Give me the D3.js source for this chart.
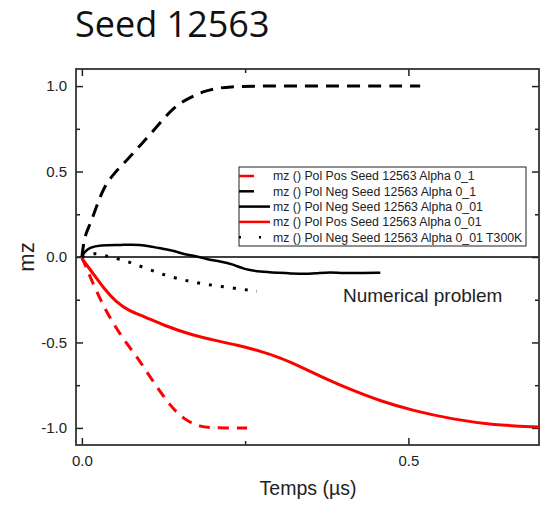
<!DOCTYPE html>
<html>
<head>
<meta charset="utf-8">
<script src="https://cdn.jsdelivr.net/npm/d3@7"></script>
<style>
  body { margin: 0; background: white; }
</style>
</head>
<body>
<svg id="display"></svg>
<script>
"use strict";

var width = 547,
    height = 505;

var margin = {left: 76, top: 69, right: 8, bottom: 60};

// series data: [temps, mz]
var negAlpha01 = [[0, 0], [0.004, 0.123], [0.0117, 0.182], [0.0219, 0.289], [0.0331, 0.406], [0.05, 0.494],
  [0.0704, 0.572], [0.0909, 0.66], [0.114, 0.757], [0.139, 0.874], [0.165, 0.933], [0.188, 0.972],
  [0.221, 1.0], [0.3, 1.0], [0.4, 1.0], [0.518, 1.0]];
var posAlpha01 = [[0, 0], [0.013, -0.12], [0.033, -0.29], [0.059, -0.46], [0.084, -0.58], [0.11, -0.735],
  [0.135, -0.87], [0.156, -0.95], [0.181, -0.995], [0.2, -1.0], [0.253, -1.0]];
var negAlpha001 = [[0, 0], [0.004, 0.03], [0.0117, 0.055], [0.027, 0.07], [0.06, 0.07], [0.088, 0.074],
  [0.114, 0.055], [0.144, 0.035], [0.155, 0.016], [0.175, 0.006], [0.19, -0.013], [0.212, -0.025], [0.232, -0.043],
  [0.248, -0.072], [0.273, -0.086], [0.3, -0.092], [0.334, -0.1], [0.36, -0.095], [0.38, -0.088], [0.4, -0.095],
  [0.43, -0.093], [0.457, -0.092]];
var posAlpha001 = [[0, -0.01], [0.018, -0.1], [0.033, -0.18], [0.051, -0.26], [0.074, -0.32], [0.094, -0.345],
  [0.125, -0.4], [0.171, -0.46], [0.207, -0.49], [0.237, -0.515], [0.273, -0.55], [0.304, -0.59], [0.334, -0.64],
  [0.375, -0.716], [0.411, -0.775], [0.457, -0.843], [0.508, -0.9], [0.569, -0.95], [0.63, -0.983], [0.7, -0.995]];
var negT300K = [[0, 0], [0.015, 0.02], [0.025, 0.02], [0.043, 0.0], [0.069, -0.023], [0.1, -0.07], [0.13, -0.11],
  [0.161, -0.14], [0.19, -0.16], [0.227, -0.18], [0.268, -0.2]];

var seriesNames = [
  "mz () Pol Pos Seed 12563 Alpha 0_1",
  "mz () Pol Neg Seed 12563 Alpha 0_1",
  "mz () Pol Neg Seed 12563 Alpha 0_01",
  "mz () Pol Pos Seed 12563 Alpha 0_01",
  "mz () Pol Neg Seed 12563 Alpha 0_01 T300K"
];
var seriesValues = [posAlpha01, negAlpha01, negAlpha001, posAlpha001, negT300K];
var seriesColors = ["#ff0000", "#000000", "#000000", "#ff0000", "#000000"];
var seriesDash = ["11,8", "13,8", null, null, "3,9"];

var xTicks = [0, 0.5],
    xMinor = [0.25],
    yTicks = [-1, -0.5, 0, 0.5, 1],
    yMinor = [-0.75, -0.25, 0.25, 0.75];

var sans = '"Liberation Sans", Arial, sans-serif';

var svg = d3.select('#display').attr('width', width).attr('height', height);

var x = d3.scaleLinear().domain([-0.009, 0.7]).range([margin.left, width - margin.right]);
var y = d3.scaleLinear().domain([-1.1, 1.1]).range([height - margin.bottom, margin.top]);

// title
svg.append('text')
  .attr('x', 75).attr('y', 37)
  .style('font-family', '"Open Sans", sans-serif')
  .style('font-size', '36px')
  .attr('fill', '#111')
  .text('Seed 12563');

// zero line
svg.append('line')
  .attr('x1', x.range()[0]).attr('x2', x.range()[1])
  .attr('y1', y(0)).attr('y2', y(0))
  .attr('stroke', 'black').attr('stroke-width', 1.5);

// axes (ticks inward, mirrored)
function fmt(d) { return d3.format('.1f')(d).replace('−', '-'); }

var xb = svg.append('g').attr('transform', 'translate(0,' + y.range()[0] + ')')
  .call(d3.axisBottom(x).tickValues(xTicks).tickSizeInner(-7).tickSizeOuter(0).tickPadding(10).tickFormat(fmt));
var xbm = svg.append('g').attr('transform', 'translate(0,' + y.range()[0] + ')')
  .call(d3.axisBottom(x).tickValues(xMinor).tickSizeInner(-4).tickSizeOuter(0).tickFormat(''));
var xt = svg.append('g').attr('transform', 'translate(0,' + y.range()[1] + ')')
  .call(d3.axisTop(x).tickValues(xTicks).tickSizeInner(-7).tickSizeOuter(0).tickFormat(''));
var xtm = svg.append('g').attr('transform', 'translate(0,' + y.range()[1] + ')')
  .call(d3.axisTop(x).tickValues(xMinor).tickSizeInner(-4).tickSizeOuter(0).tickFormat(''));
var yl = svg.append('g').attr('transform', 'translate(' + x.range()[0] + ',0)')
  .call(d3.axisLeft(y).tickValues(yTicks).tickSizeInner(-7).tickSizeOuter(0).tickPadding(9).tickFormat(fmt));
var ylm = svg.append('g').attr('transform', 'translate(' + x.range()[0] + ',0)')
  .call(d3.axisLeft(y).tickValues(yMinor).tickSizeInner(-4).tickSizeOuter(0).tickFormat(''));
var yr = svg.append('g').attr('transform', 'translate(' + x.range()[1] + ',0)')
  .call(d3.axisRight(y).tickValues(yTicks).tickSizeInner(-7).tickSizeOuter(0).tickFormat(''));
var yrm = svg.append('g').attr('transform', 'translate(' + x.range()[1] + ',0)')
  .call(d3.axisRight(y).tickValues(yMinor).tickSizeInner(-4).tickSizeOuter(0).tickFormat(''));

[xb, xbm, xt, xtm, yl, ylm, yr, yrm].forEach(function(g) {
  g.select('.domain').remove();
  g.selectAll('line').attr('stroke', '#222').attr('stroke-width', 1.5);
  g.selectAll('text').attr('font-size', 15).attr('fill', '#222').attr('font-family', sans);
});

// frame
svg.append('rect')
  .attr('x', x.range()[0]).attr('y', y.range()[1])
  .attr('width', x.range()[1] - x.range()[0])
  .attr('height', y.range()[0] - y.range()[1])
  .attr('fill', 'none').attr('stroke', '#333').attr('stroke-width', 1.8);

// series
var line = d3.line()
  .x(function(d){ return x(d[0]); })
  .y(function(d){ return y(d[1]); })
  .curve(d3.curveBasis);

seriesValues.forEach(function(vals, i) {
  svg.append('path')
    .datum(vals)
    .attr('d', line)
    .attr('fill', 'none')
    .attr('stroke', seriesColors[i])
    .attr('stroke-width', i == 2 ? 2.5 : 3)
    .attr('stroke-dasharray', seriesDash[i]);
});

// axis labels
svg.append('text')
  .attr('x', 308).attr('y', 495)
  .attr('text-anchor', 'middle')
  .attr('font-family', sans)
  .attr('font-size', 19.5).attr('fill', '#222')
  .text('Temps (µs)');
svg.append('text')
  .attr('transform', 'translate(34,' + y(0) + ') rotate(-90)')
  .attr('text-anchor', 'middle')
  .attr('font-family', sans)
  .attr('font-size', 22).attr('fill', '#222')
  .text('mz');

// annotation
svg.append('text')
  .attr('x', 343).attr('y', 302)
  .attr('font-family', sans)
  .attr('font-size', 19).attr('fill', '#222')
  .text('Numerical problem');

// legend
var legend = svg.append('g').attr('transform', 'translate(239,167)');
legend.append('rect')
  .attr('width', 287).attr('height', 79)
  .attr('fill', 'white').attr('stroke', '#222').attr('stroke-width', 1);

var legSample = [[0, 15], [0, 15], [0, 31], [0, 31], [0, 22]];
var legDash = [null, null, null, null, "2,18"];
seriesNames.forEach(function(name, i) {
  var ly = 9 + i * 15.3;
  legend.append('line')
    .attr('x1', legSample[i][0]).attr('x2', legSample[i][1])
    .attr('y1', ly).attr('y2', ly)
    .attr('stroke', seriesColors[i]).attr('stroke-width', 2.5)
    .attr('stroke-dasharray', legDash[i]);
  legend.append('text')
    .attr('x', 34).attr('y', ly)
    .attr('dy', '0.35em')
    .attr('font-family', sans)
    .attr('font-size', 12.3).attr('fill', '#222')
    .text(name);
});
</script>
</body>
</html>
